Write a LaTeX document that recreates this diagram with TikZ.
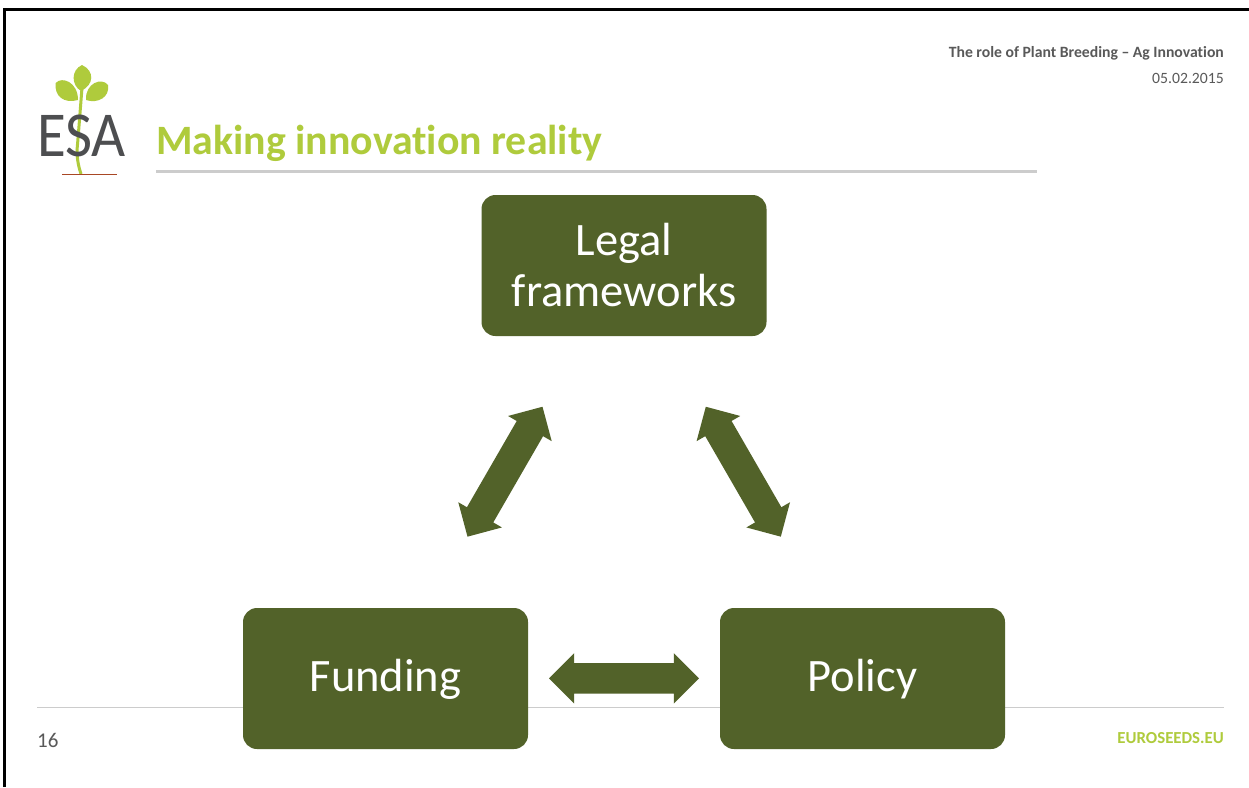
\documentclass[tikz,border=0pt]{standalone}
\usepackage{fontspec}
\setmainfont{Carlito}[Ligatures=NoCommon]
\usetikzlibrary{shapes.arrows}
\definecolor{boxgreen}{HTML}{526229}
\definecolor{esagreen}{HTML}{AFCB3C}
\definecolor{greytext}{HTML}{595959}
\definecolor{logogrey}{HTML}{4D4E50}
\definecolor{rulegrey}{HTML}{CCCCCC}
\tikzset{
	topicbox/.style={draw=none,fill=boxgreen,rounded corners=14pt,minimum width=285pt,minimum height=141pt,inner sep=0pt,text=white,align=center,font=\fontsize{46.5}{51}\selectfont},
	linkarrow/.style={double arrow,fill=boxgreen,draw=none,inner xsep=0pt,inner ysep=15pt,minimum height=150pt,double arrow head extend=10pt},
	headtext/.style={text=greytext,anchor=east,inner sep=0pt,font=\fontsize{15.7}{18}\selectfont},
}
\begin{document}
\begin{tikzpicture}[x=1pt,y=-1pt]
	\useasboundingbox (0,0) rectangle (1249,787);
	\fill[white] (0,0) rectangle (1249,787);
	% frame
	\draw[line width=2.6pt,black] (4.6,787) -- (4.6,9.3) -- (1249,9.3);
	% logo
	\draw[esagreen,line width=3pt] (82,88) .. controls (81,100) and (78,140) .. (77,150) .. controls (77,160) and (79,168) .. (81,174);
	\fill[esagreen] (82,65) .. controls (71,70) and (71,85) .. (81,91) .. controls (94,85) and (95,71) .. (82,65) -- cycle;
	\fill[esagreen] (55.7,83) .. controls (62,76) and (78,82) .. (78,100) .. controls (64,104) and (54,96) .. (55.7,83) -- cycle;
	\fill[esagreen] (108,85) .. controls (102,77) and (85,83) .. (86,100) .. controls (98,104) and (110,97) .. (108,85) -- cycle;
	\draw[brown!70!red!80!black,line width=.8pt] (62,174.3) -- (117,174.3);
	\node[inner sep=0pt,text=logogrey,font=\fontsize{64}{64}\selectfont,xscale=.92,anchor=base] (esa) at (81.5,156) {ESA};
	% title
	\node[anchor=base west,inner sep=0pt,text=esagreen,font=\fontsize{41.8}{48}\selectfont\bfseries] (title) at (156,154) {Making innovation reality};
	\draw[rulegrey,line width=3pt] (156,171.5) -- (1037,171.5);
	% header
	\node[headtext,font=\fontsize{15.7}{18}\selectfont\bfseries] (talk) at (1224,53) {The role of Plant Breeding – Ag Innovation};
	\node[headtext] (date) at (1224,78) {05.02.2015};
	% footer
	\draw[rulegrey,line width=.8pt] (37,707.5) -- (1224,707.5);
	\node[anchor=base west,inner sep=0pt,text=greytext,font=\fontsize{21}{24}\selectfont] (page) at (37,747) {16};
	\node[anchor=base east,inner sep=0pt,text=esagreen,font=\fontsize{16.8}{20}\selectfont\bfseries] (site) at (1224,743) {EUROSEEDS.EU};
	% boxes
	\node[topicbox] (legal) at (624,265.5) {Legal\\frameworks};
	\node[topicbox,text depth=5.5pt] (funding) at (385.5,678.5) {Funding};
	\node[topicbox,text depth=5.5pt] (policy) at (862.5,678.5) {Policy};
	% arrows
	\node[linkarrow,rotate=60] (legalfunding) at (505,471.7) {};
	\node[linkarrow,rotate=-60] (legalpolicy) at (743.3,471.7) {};
	\node[linkarrow] (fundingpolicy) at (624,678.3) {};
\end{tikzpicture}
\end{document}
